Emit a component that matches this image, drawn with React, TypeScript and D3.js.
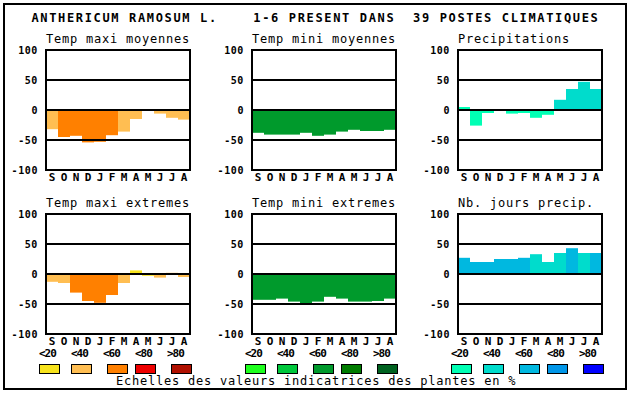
import React, { useEffect, useRef } from 'react';
import * as d3 from 'd3';

// chart text
const title = 'ANTHERICUM RAMOSUM L.    1-6 PRESENT DANS  39 POSTES CLIMATIQUES';
const footer = 'Echelles des valeurs indicatrices des plantes en %';
const months = ['S', 'O', 'N', 'D', 'J', 'F', 'M', 'A', 'M', 'J', 'J', 'A'];
const yTicks = [100, 50, 0, -50, -100];
const classLabels = ['<20', '<40', '<60', '<80', '>80'];

// colour scales (one per column)
const warmColors = ['#f7e31c', '#ffbe52', '#ff8000', '#ee0000', '#b01000'];
const greenColors = ['#1eff1e', '#00c83c', '#009a2c', '#007c00', '#006220'];
const blueColors = ['#00ffb4', '#00dccc', '#00b8e0', '#0096e8', '#0000ff'];

// values per month (S..A) and the colour class of each bar
const tmaxMoy = [-32, -45, -43, -54, -53, -42, -36, -15, 0, -6, -13, -16];
const tmaxMoyClass = [1, 2, 2, 2, 2, 2, 1, 1, 1, 1, 1, 1];
const tminMoy = [-38, -41, -41, -41, -38, -43, -41, -36, -33, -35, -35, -33];
const tminMoyClass = [2, 2, 2, 2, 2, 2, 2, 2, 2, 2, 2, 2];
const precip = [5, -26, -5, 0, -6, -5, -13, -8, 17, 35, 47, 35];
const precipClass = [0, 0, 0, 0, 0, 0, 0, 0, 1, 1, 1, 1];
const tmaxExt = [-13, -15, -31, -45, -48, -35, -15, 6, -3, -6, 2, -5];
const tmaxExtClass = [1, 1, 2, 2, 2, 2, 1, 0, 0, 1, 1, 1];
const tminExt = [-43, -43, -41, -46, -50, -46, -38, -41, -46, -46, -45, -41];
const tminExtClass = [2, 2, 2, 2, 2, 2, 2, 2, 2, 2, 2, 2];
const nbJours = [27, 20, 20, 25, 25, 27, 33, 20, 35, 43, 35, 35];
const nbJoursClass = [2, 2, 2, 2, 2, 2, 1, 1, 1, 2, 1, 2];

const panels = [
  { title: 'Temp maxi moyennes', values: tmaxMoy, cls: tmaxMoyClass, colors: warmColors, col: 0, row: 0 },
  { title: 'Temp mini moyennes', values: tminMoy, cls: tminMoyClass, colors: greenColors, col: 1, row: 0 },
  { title: 'Precipitations', values: precip, cls: precipClass, colors: blueColors, col: 2, row: 0 },
  { title: 'Temp maxi extremes', values: tmaxExt, cls: tmaxExtClass, colors: warmColors, col: 0, row: 1 },
  { title: 'Temp mini extremes', values: tminExt, cls: tminExtClass, colors: greenColors, col: 1, row: 1 },
  { title: 'Nb. jours precip.', values: nbJours, cls: nbJoursClass, colors: blueColors, col: 2, row: 1 },
];
const legendColors = [warmColors, greenColors, blueColors];

const MONO = "'DejaVu Sans Mono', monospace";

const App: React.FC = () => {
  const ref = useRef<SVGSVGElement>(null);

  useEffect(() => {
    if (!ref.current) return;
    const svg = d3.select(ref.current);
    svg.selectAll('*').remove();

    const plotW = 144;
    const plotH = 120;
    const colX = (c: number) => 46 + 206 * c;
    const rowY = (r: number) => 50 + 164 * r;

    svg.append('rect').attr('width', 630).attr('height', 394).attr('fill', '#fff');
    svg
      .append('rect')
      .attr('x', 4).attr('y', 4).attr('width', 622).attr('height', 385)
      .attr('fill', 'none').attr('stroke', '#000').attr('stroke-width', 2);

    svg
      .append('text')
      .attr('x', 31.5).attr('y', 22)
      .attr('font-family', MONO).attr('font-weight', 'bold').attr('font-size', 12)
      .attr('letter-spacing', 1.65)
      .style('white-space', 'pre')
      .text(title);

    panels.forEach((p) => {
      const x0 = colX(p.col);
      const y0 = rowY(p.row);
      const x = d3.scaleBand<number>().domain(d3.range(12)).range([x0, x0 + plotW]);
      const y = d3.scaleLinear().domain([-100, 100]).range([y0 + plotH, y0]);
      const g = svg.append('g');

      g.append('text')
        .attr('x', x0).attr('y', y0 - 7)
        .attr('font-family', MONO).attr('font-size', 12).attr('letter-spacing', 0.78)
        .text(p.title);

      g.selectAll('rect.bar')
        .data(p.values.map((v, i) => ({ v, i })).filter((d) => d.v !== 0))
        .join('rect')
        .attr('class', 'bar')
        .attr('x', (d) => x(d.i)!)
        .attr('width', x.bandwidth())
        .attr('y', (d) => y(Math.max(0, d.v)))
        .attr('height', (d) => Math.abs(y(d.v) - y(0)))
        .attr('fill', (d) => p.colors[p.cls[d.i]]);

      // grid lines at 0 and +-50
      g.selectAll('line.grid')
        .data([50, 0, -50])
        .join('line')
        .attr('x1', x0).attr('x2', x0 + plotW)
        .attr('y1', (d) => y(d)).attr('y2', (d) => y(d))
        .attr('stroke', '#000').attr('stroke-width', 2);

      g.append('rect')
        .attr('x', x0).attr('y', y0).attr('width', plotW).attr('height', plotH)
        .attr('fill', 'none').attr('stroke', '#000').attr('stroke-width', 2);

      g.selectAll('text.tick')
        .data(yTicks)
        .join('text')
        .attr('class', 'tick')
        .attr('x', x0 - 8).attr('y', (d) => y(d) + 4)
        .attr('text-anchor', 'end')
        .attr('font-family', MONO).attr('font-weight', 'bold').attr('font-size', 10)
        .attr('letter-spacing', 0.6)
        .text((d) => d);

      g.selectAll('text.month')
        .data(months)
        .join('text')
        .attr('class', 'month')
        .attr('x', (_, i) => x(i)! + x.bandwidth() / 2)
        .attr('y', y0 + plotH + 11)
        .attr('text-anchor', 'middle')
        .attr('font-family', MONO).attr('font-weight', 'bold').attr('font-size', 11)
        .text((d) => d);
    });

    // legend under each column
    const boxOff = [0, 32, 68, 96, 132];
    legendColors.forEach((cols, c) => {
      const lx = 39 + 206 * c;
      const g = svg.append('g');
      g.selectAll('text')
        .data(classLabels)
        .join('text')
        .attr('x', (_, i) => lx + 32 * i)
        .attr('y', 357)
        .attr('font-family', MONO).attr('font-weight', 'bold').attr('font-size', 11)
        .attr('letter-spacing', -1)
        .text((d) => d);
      g.selectAll('rect')
        .data(cols)
        .join('rect')
        .attr('x', (_, i) => lx + boxOff[i] + 0.5)
        .attr('y', 364.5)
        .attr('width', 20).attr('height', 9)
        .attr('fill', (d) => d)
        .attr('stroke', '#000').attr('stroke-width', 1);
    });

    svg
      .append('text')
      .attr('x', 116).attr('y', 385)
      .attr('font-family', MONO).attr('font-size', 12).attr('letter-spacing', 0.78)
      .text(footer);
  }, []);

  return (
    <svg
      ref={ref}
      width={630}
      height={394}
      style={{ position: 'absolute', left: 0, top: 0 }}
    />
  );
};

export default App;
